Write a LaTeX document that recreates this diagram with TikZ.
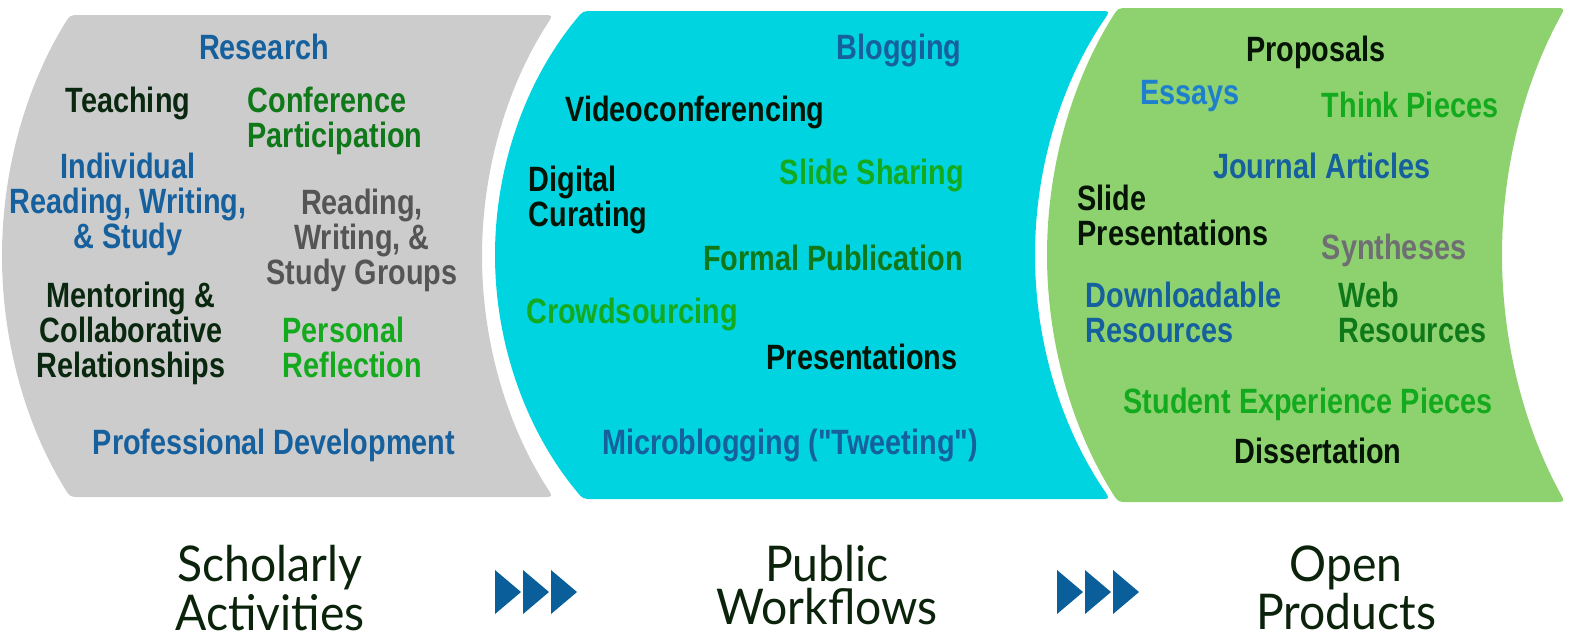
\documentclass[tikz,border=0pt]{standalone}
\usepackage{fontspec}
\setmainfont{Lato}[FakeStretch=0.94]
\newfontfamily\lblfont{Liberation Sans}[FakeStretch=0.82]
\definecolor{panelgray}{RGB}{204,204,204}
\definecolor{panelcyan}{RGB}{0,212,224}
\definecolor{panelgreen}{RGB}{142,210,112}
\definecolor{tblue}{RGB}{22,96,158}
\definecolor{tlight}{RGB}{30,128,205}
\definecolor{tdark}{RGB}{10,40,15}
\definecolor{tblack}{RGB}{5,20,5}
\definecolor{tgreen}{RGB}{15,120,25}
\definecolor{tbright}{RGB}{20,170,30}
\definecolor{tgray}{RGB}{85,85,85}
\definecolor{tgraylight}{RGB}{110,110,115}
\definecolor{stagetext}{RGB}{10,35,10}
\definecolor{arrowblue}{RGB}{10,95,155}

\begin{document}
\begin{tikzpicture}[x=0.01cm, y=-0.01cm,
    lbl/.style={font=\lblfont\bfseries\fontsize{10}{10}\selectfont, inner sep=0pt, anchor=north, align=center},
    lblw/.style={lbl, anchor=north west, align=left},
    stage/.style={font=\fontsize{14}{12}\selectfont, text=stagetext, inner sep=0pt, anchor=north, align=center}]
    \useasboundingbox (0,0) rectangle (1578,635);

    % Panels
    \fill[panelgray] (80,15) -- (543,15) .. controls (553,15) .. (547.6,23.4)
        .. controls (506.7,86.7) and (482,170.6) .. (482,256)
        .. controls (482,341.4) and (506.7,425.3) .. (547.6,488.6)
        .. controls (553,497) .. (543,497) -- (80,497) .. controls (70,497) .. (64.8,488.5)
        .. controls (25.5,425) and (2,341) .. (2,256)
        .. controls (2,171) and (25.5,87.5) .. (64.8,23.5)
        .. controls (70,15) .. (80,15) -- cycle;
    \fill[panelcyan] (593,11) -- (1100,11) .. controls (1110,11) .. (1104.4,19.3)
        .. controls (1061.1,83.1) and (1035,167.9) .. (1035,255)
        .. controls (1035,342.1) and (1061.1,426.9) .. (1104.4,490.7)
        .. controls (1110,499) .. (1100,499) -- (593,499) .. controls (583,499) .. (576.6,491.3)
        .. controls (526.1,430.3) and (495,344.2) .. (495,255)
        .. controls (495,165.8) and (526.1,79.7) .. (576.6,18.7)
        .. controls (583,11) .. (593,11) -- cycle;
    \fill[panelgreen] (1128,8) -- (1555,8) .. controls (1565,8) .. (1560.2,16.8)
        .. controls (1523.7,83.8) and (1502,168.7) .. (1502,255)
        .. controls (1502,341.3) and (1523.7,426.2) .. (1560.2,493.2)
        .. controls (1565,502) .. (1555,502) -- (1128,502) .. controls (1118,502) .. (1112.7,493.5)
        .. controls (1071.6,428) and (1047,342.4) .. (1047,255)
        .. controls (1047,167.6) and (1071.6,82) .. (1112.7,16.5)
        .. controls (1118,8) .. (1128,8) -- cycle;

    % Scholarly activities
    \node[lbl, text=tblue] (research) at (264,33) {Research};
    \node[lbl, text=tdark] (teaching) at (128,86) {Teaching};
    \node[lblw, text=tgreen] (conference) at (247,86) {Conference\\Participation};
    \node[lbl, text=tblue] (individual) at (128,152) {Individual\\Reading, Writing,\\\& Study};
    \node[lbl, text=tgray] (groups) at (362,188) {Reading,\\Writing, \&\\Study Groups};
    \node[lbl, text=tdark] (mentoring) at (131,281) {Mentoring \&\\Collaborative\\Relationships};
    \node[lblw, text=tbright] (reflection) at (282,316) {Personal\\Reflection};
    \node[lbl, text=tblue] (profdev) at (274,428) {Professional Development};

    % Public workflows
    \node[lbl, text=tblue] (blogging) at (899,33) {Blogging};
    \node[lbl, text=tblack] (video) at (695,95) {Videoconferencing};
    \node[lblw, text=tblack] (curating) at (528,165) {Digital\\Curating};
    \node[lbl, text=tbright] (slides) at (872,158) {Slide Sharing};
    \node[lbl, text=tgreen] (formal) at (833,244) {Formal Publication};
    \node[lbl, text=tbright] (crowd) at (632,297) {Crowdsourcing};
    \node[lbl, text=tblack] (present) at (862,343) {Presentations};
    \node[lbl, text=tblue] (micro) at (790,428) {Microblogging ("Tweeting")};

    % Open products
    \node[lbl, text=tblack] (proposals) at (1316,35) {Proposals};
    \node[lbl, text=tlight] (essays) at (1190,80) {Essays};
    \node[lbl, text=tbright] (think) at (1410,91) {Think Pieces};
    \node[lbl, text=tblue] (journal) at (1322,152) {Journal Articles};
    \node[lblw, text=tblack] (slidepres) at (1077,184) {Slide\\Presentations};
    \node[lbl, text=tgraylight] (syntheses) at (1394,233) {Syntheses};
    \node[lblw, text=tblue] (download) at (1085,281) {Downloadable\\Resources};
    \node[lblw, text=tgreen] (web) at (1338,281) {Web\\Resources};
    \node[lbl, text=tbright] (student) at (1308,387) {Student Experience Pieces};
    \node[lbl, text=tblack] (dissertation) at (1318,437) {Dissertation};

    % Stages
    \node[stage] (scholarly) at (270,545) {Scholarly\\Activities};
    \node[stage] (public) at (827,545) {Public\\Workflows};
    \node[stage] (open) at (1346,545) {Open\\Products};

    % Chevrons
    \fill[arrowblue] (495,570) -- (521,592) -- (495,614) -- cycle;
    \fill[arrowblue] (523,570) -- (549,592) -- (523,614) -- cycle;
    \fill[arrowblue] (551,570) -- (577,592) -- (551,614) -- cycle;
    \fill[arrowblue] (1057,570) -- (1083,592) -- (1057,614) -- cycle;
    \fill[arrowblue] (1085,570) -- (1111,592) -- (1085,614) -- cycle;
    \fill[arrowblue] (1113,570) -- (1139,592) -- (1113,614) -- cycle;
\end{tikzpicture}
\end{document}
